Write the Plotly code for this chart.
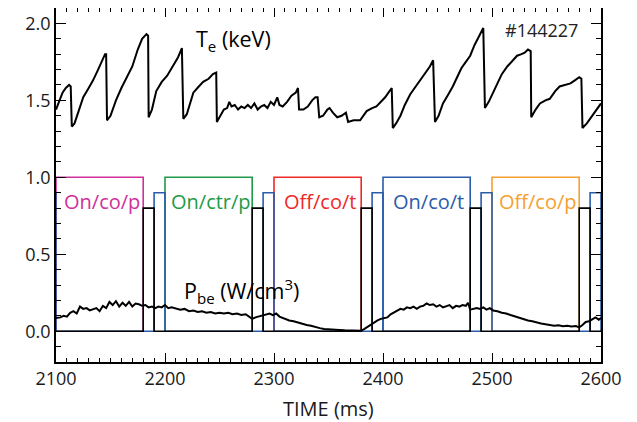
import plotly.graph_objects as go

# ---- data ----
te_time = [2100, 2103, 2106, 2109, 2112, 2113.5, 2114.5, 2117, 2120, 2125, 2130, 2134, 2138, 2142, 2145, 2146,
           2146.8, 2150, 2155, 2160, 2165, 2170, 2175, 2179, 2183, 2184.5, 2185, 2188, 2192, 2197, 2202, 2207,
           2212, 2215.5, 2216.8, 2220, 2226, 2231, 2235, 2240, 2244, 2247, 2247.6, 2250, 2254, 2257, 2259, 2261,
           2264, 2267, 2270, 2273, 2276, 2279, 2282, 2285, 2288, 2291, 2294, 2297, 2300, 2303, 2305, 2308, 2312,
           2316, 2320, 2322, 2323, 2327, 2331, 2335, 2338, 2340, 2341.5, 2345, 2349, 2351, 2354, 2358, 2362,
           2366, 2368, 2373, 2379, 2385, 2390, 2394, 2398, 2402, 2405, 2408, 2409, 2412, 2416, 2420, 2425, 2429,
           2433, 2438, 2443, 2446, 2447.7, 2451, 2455, 2460, 2464, 2468, 2472, 2476, 2480, 2484, 2488, 2492,
           2493.5, 2497, 2501, 2505, 2509, 2514, 2519, 2523, 2527, 2530, 2533, 2535.5, 2536, 2540, 2544, 2549,
           2553, 2558, 2562, 2567, 2572, 2576, 2580, 2582, 2583, 2587, 2591, 2596, 2600]
te_kev = [1.44, 1.50, 1.55, 1.58, 1.60, 1.59, 1.33, 1.35, 1.42, 1.52, 1.58, 1.63, 1.69, 1.76, 1.80, 1.80,
          1.37, 1.40, 1.50, 1.58, 1.65, 1.72, 1.83, 1.90, 1.93, 1.92, 1.39, 1.44, 1.56, 1.62, 1.66, 1.72,
          1.78, 1.84, 1.38, 1.41, 1.55, 1.59, 1.62, 1.64, 1.67, 1.68, 1.36, 1.39, 1.44, 1.45, 1.49, 1.46,
          1.47, 1.44, 1.46, 1.45, 1.47, 1.45, 1.48, 1.44, 1.46, 1.47, 1.45, 1.49, 1.47, 1.52, 1.47, 1.46, 1.49,
          1.53, 1.55, 1.58, 1.44, 1.44, 1.46, 1.50, 1.52, 1.52, 1.39, 1.40, 1.44, 1.45, 1.42, 1.39, 1.40,
          1.42, 1.36, 1.37, 1.37, 1.43, 1.45, 1.46, 1.49, 1.52, 1.55, 1.58, 1.32, 1.35, 1.40, 1.47, 1.54, 1.58,
          1.62, 1.67, 1.72, 1.76, 1.36, 1.40, 1.48, 1.54, 1.59, 1.65, 1.71, 1.75, 1.79, 1.86, 1.92, 1.97,
          1.45, 1.49, 1.55, 1.61, 1.67, 1.72, 1.76, 1.79, 1.80, 1.81, 1.83, 1.82, 1.39, 1.44, 1.48, 1.50,
          1.51, 1.56, 1.59, 1.60, 1.61, 1.63, 1.65, 1.64, 1.32, 1.35, 1.39, 1.44, 1.48]

pbe_time = [2100, 2104, 2107, 2110, 2113, 2116, 2119, 2122, 2125, 2128, 2131, 2134, 2137, 2140, 2143, 2146,
            2149, 2152, 2155, 2158, 2161, 2164, 2167, 2170, 2173, 2176, 2179, 2182, 2185, 2188, 2191, 2194,
            2197, 2200, 2203, 2206, 2210, 2214, 2218, 2222, 2226, 2230, 2234, 2238, 2242, 2246, 2250, 2254,
            2258, 2262, 2266, 2270, 2274, 2278, 2280, 2283, 2286, 2290, 2293, 2296, 2299, 2302, 2305, 2308,
            2311, 2314, 2318, 2322, 2326, 2330, 2334, 2338, 2342, 2346, 2350, 2355, 2360, 2365, 2370, 2375,
            2380, 2383, 2386, 2389, 2392, 2395, 2398, 2401, 2404, 2407, 2410, 2413, 2416, 2419, 2422, 2425,
            2428, 2431, 2434, 2437, 2440, 2443, 2446, 2449, 2452, 2455, 2458, 2461, 2464, 2467, 2470, 2473,
            2476, 2478, 2480, 2483, 2486, 2489, 2492, 2495, 2498, 2501, 2505, 2509, 2513, 2517, 2521, 2525,
            2529, 2533, 2537, 2541, 2545, 2549, 2553, 2557, 2561, 2565, 2569, 2573, 2577, 2580, 2583, 2586,
            2589, 2592, 2595, 2598, 2600]
pbe_wcm3 = [0.085, 0.09, 0.10, 0.095, 0.12, 0.13, 0.115, 0.16, 0.145, 0.15, 0.135, 0.14, 0.15, 0.13, 0.165, 0.15,
            0.19, 0.17, 0.195, 0.16, 0.185, 0.165, 0.19, 0.16, 0.18, 0.175, 0.165, 0.17, 0.155, 0.16, 0.15, 0.16,
            0.155, 0.17, 0.15, 0.155, 0.145, 0.14, 0.145, 0.13, 0.135, 0.125, 0.13, 0.12, 0.125, 0.115, 0.12, 0.115,
            0.12, 0.11, 0.115, 0.105, 0.11, 0.09, 0.08, 0.09, 0.095, 0.10, 0.11, 0.115, 0.105, 0.115, 0.095, 0.085,
            0.08, 0.07, 0.065, 0.055, 0.05, 0.04, 0.035, 0.025, 0.02, 0.015, 0.012, 0.01, 0.008, 0.006, 0.005, 0.004,
            0.003, 0.015, 0.03, 0.04, 0.055, 0.07, 0.08, 0.085, 0.09, 0.11, 0.12, 0.13, 0.145, 0.14, 0.155, 0.15,
            0.16, 0.145, 0.16, 0.165, 0.18, 0.17, 0.175, 0.16, 0.17, 0.155, 0.165, 0.17, 0.15, 0.165, 0.16, 0.17,
            0.165, 0.185, 0.14, 0.145, 0.15, 0.145, 0.155, 0.14, 0.15, 0.135, 0.13, 0.12, 0.115, 0.105, 0.095, 0.085,
            0.08, 0.07, 0.065, 0.055, 0.05, 0.045, 0.04, 0.035, 0.038, 0.032, 0.036, 0.03, 0.034, 0.025, 0.04, 0.06,
            0.065, 0.08, 0.09, 0.075, 0.085]

gate_start = [2100, 2200, 2300, 2400, 2500]
gate_end = [2180, 2280, 2380, 2480, 2580]
gate_labels = ["On/co/p", "On/ctr/p", "Off/co/t", "On/co/t", "Off/co/p"]
gate_colors = ["#d0309a", "#1e9a48", "#f02828", "#2a5caa", "#f5a030"]
gate_level = 1.0

black_start = [2180, 2280, 2380, 2480, 2580]
black_end = [2190, 2290, 2390, 2490, 2590]
black_level = 0.8

blue_start = [2090, 2190, 2290, 2390, 2490, 2590]
blue_end = [2100, 2200, 2300, 2400, 2500, 2600]
blue_level = 0.9

x_range = [2100, 2600]
y_range = [-0.2, 2.1]
x_ticks = [2100, 2200, 2300, 2400, 2500, 2600]
y_ticks = [0.0, 0.5, 1.0, 1.5, 2.0]
y_ticklabels = ["0.0", "0.5", "1.0", "1.5", "2.0"]
x_title = "TIME (ms)"

FONT = "Open Sans"
fig = go.Figure()

# coloured gate boxes
for s, e, c in zip(gate_start, gate_end, gate_colors):
    fig.add_trace(go.Scatter(x=[s, s, e, e], y=[0, gate_level, gate_level, 0], mode="lines",
                             line=dict(color=c, width=1.6), hoverinfo="skip", showlegend=False))


def pulses(starts, ends, level):
    xs, ys = [x_range[0]], [0]
    for s, e in zip(starts, ends):
        xs += [s, s, e, e]
        ys += [0, level, level, 0]
    xs.append(x_range[1])
    ys.append(0)
    return xs, ys


bx, by = pulses(blue_start, blue_end, blue_level)
fig.add_trace(go.Scatter(x=bx, y=by, mode="lines", line=dict(color="#2a5caa", width=1.6),
                         hoverinfo="skip", showlegend=False))
kx, ky = pulses(black_start, black_end, black_level)
fig.add_trace(go.Scatter(x=kx, y=ky, mode="lines", line=dict(color="black", width=1.6),
                         hoverinfo="skip", showlegend=False))

fig.add_trace(go.Scatter(x=te_time, y=te_kev, mode="lines", line=dict(color="black", width=2),
                         showlegend=False))
fig.add_trace(go.Scatter(x=pbe_time, y=pbe_wcm3, mode="lines", line=dict(color="black", width=2),
                         showlegend=False))

for s, e, lab, c in zip(gate_start, gate_end, gate_labels, gate_colors):
    fig.add_annotation(x=(s + e) / 2 + 2, y=0.845, text=lab, showarrow=False,
                       font=dict(family=FONT, size=20, color=c), xanchor="center", yanchor="middle")

fig.add_annotation(x=2263, y=1.89, text="T<sub>e</sub> (keV)", showarrow=False,
                   font=dict(family=FONT, size=21.5, color="black"), xanchor="center", yanchor="middle")
fig.add_annotation(x=2545, y=1.955, text="#144227", showarrow=False,
                   font=dict(family=FONT, size=18, color="#222"), xanchor="center", yanchor="middle")
fig.add_annotation(x=2270, y=0.26, text="P<sub>be</sub> (W/cm<sup>3</sup>)", showarrow=False,
                   font=dict(family=FONT, size=21.5, color="black"), xanchor="center", yanchor="middle")
# x-axis title placed explicitly below the tick labels
fig.add_annotation(x=0.5, y=-0.13, xref="paper", yref="paper", text=x_title, showarrow=False,
                   font=dict(family=FONT, size=20, color="#1a1a1a"), xanchor="center", yanchor="middle")

fig.update_xaxes(range=x_range, tickvals=x_ticks, ticks="inside", ticklen=9, tickwidth=1.2,
                 tickcolor="black", showline=True, linecolor="black", linewidth=1.5, mirror="ticks",
                 showgrid=False, zeroline=False, automargin=False,
                 minor=dict(dtick=10, tick0=2100, ticks="inside", ticklen=4, tickwidth=1, tickcolor="black"),
                 tickfont=dict(family=FONT, size=18, color="#1a1a1a"))
fig.update_yaxes(range=y_range, tickvals=y_ticks, ticktext=y_ticklabels, ticks="inside", ticklen=10,
                 tickwidth=1.2, tickcolor="black", showline=True, linecolor="black", linewidth=1.5,
                 mirror="ticks", showgrid=False, zeroline=False, automargin=False,
                 minor=dict(dtick=0.1, tick0=0, ticks="inside", ticklen=5, tickwidth=1, tickcolor="black"),
                 tickfont=dict(family=FONT, size=18, color="#1a1a1a"))

# the page body adds an 8 px margin, so the figure is offset by 8 px inside the 637x422 window
fig.update_layout(width=621, height=414, margin=dict(l=48, r=28, t=0, b=60),
                  plot_bgcolor="white", paper_bgcolor="white")

fig.write_html("out.html")
